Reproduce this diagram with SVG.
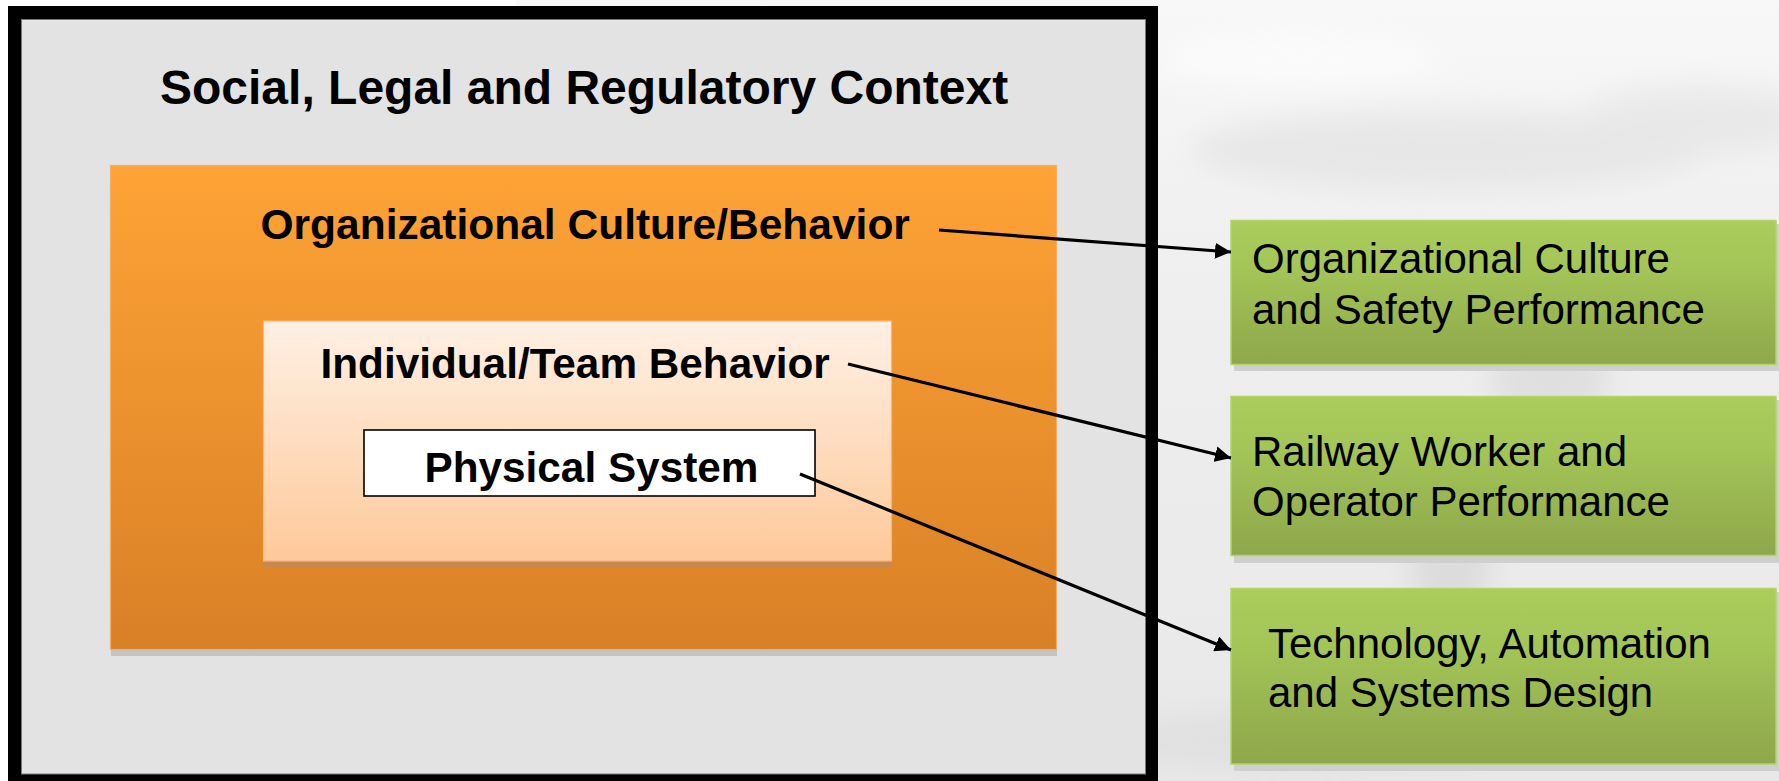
<svg xmlns="http://www.w3.org/2000/svg" width="1779" height="781" viewBox="0 0 1779 781">
  <defs>
    <linearGradient id="gOrange" x1="0" y1="0" x2="0" y2="1">
      <stop offset="0" stop-color="#ffa336"/>
      <stop offset="1" stop-color="#d88026"/>
    </linearGradient>
    <linearGradient id="gLight" x1="0" y1="0" x2="0" y2="1">
      <stop offset="0" stop-color="#fff0e4"/>
      <stop offset="1" stop-color="#fec99a"/>
    </linearGradient>
    <linearGradient id="gGreen" x1="0" y1="0" x2="0" y2="1">
      <stop offset="0" stop-color="#abcd5c"/>
      <stop offset="0.35" stop-color="#a3c457"/>
      <stop offset="1" stop-color="#8ea74b"/>
    </linearGradient>
    <linearGradient id="gSky" x1="0" y1="0" x2="0" y2="1">
      <stop offset="0" stop-color="#f8f8f8"/>
      <stop offset="0.3" stop-color="#f0f0f0"/>
      <stop offset="0.6" stop-color="#ececec"/>
      <stop offset="1" stop-color="#e8e8e8"/>
    </linearGradient>
    <filter id="blur" x="-20%" y="-50%" width="140%" height="200%">
      <feGaussianBlur stdDeviation="14"/>
    </filter>
    <marker id="arrow" viewBox="0 0 10 10" refX="10" refY="5" markerWidth="5" markerHeight="5" markerUnits="strokeWidth" orient="auto">
      <path d="M0,0 L10,5 L0,10 z" fill="#000"/>
    </marker>
    <style>
      .bold { font-family: "Liberation Sans", Arial, sans-serif; font-weight: bold; fill: #000; }
      .reg { font-family: "Liberation Sans", Arial, sans-serif; font-size: 42px; fill: #000; }
      .conn { stroke: #000; stroke-width: 3.2; fill: none; marker-end: url(#arrow); }
      .green { fill: url(#gGreen); stroke: #b4d26e; stroke-width: 1.5; }
      .gshadow { fill: #cfcfcf; }
    </style>
  </defs>

  <!-- background photo approximation -->
  <rect x="0" y="0" width="1779" height="781" fill="#ffffff"/>
  <rect x="516" y="0" width="1263" height="781" fill="url(#gSky)"/>
  <g filter="url(#blur)" opacity="0.55">
    <ellipse cx="1450" cy="150" rx="260" ry="40" fill="#dedede"/>
    <ellipse cx="1700" cy="120" rx="120" ry="35" fill="#e0e0e0"/>
    <ellipse cx="1300" cy="60" rx="140" ry="25" fill="#ffffff"/>
    <ellipse cx="1550" cy="380" rx="60" ry="40" fill="#d4d4d4"/>
    <ellipse cx="1450" cy="560" rx="40" ry="60" fill="#d0d0d0"/>
    <ellipse cx="1300" cy="740" rx="200" ry="30" fill="#dadada"/>
  </g>

  <!-- outer frame: Social, Legal and Regulatory Context -->
  <g id="node-context">
    <rect x="8" y="6" width="1150" height="790" fill="#000"/>
    <rect x="21.5" y="19.5" width="1124" height="754.5" fill="#e3e3e3" stroke="#7a7a7a" stroke-width="1"/>
    <text class="bold" x="160" y="104" font-size="48">Social, Legal and Regulatory Context</text>
  </g>

  <!-- orange box -->
  <g id="node-org">
    <rect x="111" y="172" width="946" height="484" fill="#c4c4c4"/>
    <rect x="110.5" y="165.5" width="946" height="484" fill="url(#gOrange)" stroke="#f6ad6a" stroke-width="1.2"/>
    <text class="bold" x="260.5" y="238.5" font-size="42.5">Organizational Culture/Behavior</text>
  </g>

  <!-- individual/team box -->
  <g id="node-indiv">
    <rect x="264" y="327" width="628" height="240" fill="#c88a4c"/>
    <rect x="263.5" y="321" width="628" height="240" fill="url(#gLight)" stroke="#f8b57c" stroke-width="1.2"/>
    <text class="bold" x="320.5" y="378" font-size="42.3">Individual/Team Behavior</text>
  </g>

  <!-- physical system -->
  <g id="node-phys">
    <rect x="364" y="430" width="451" height="66" fill="#ffffff" stroke="#000" stroke-width="1.6"/>
    <text class="bold" x="424.5" y="482" font-size="42.3">Physical System</text>
  </g>

  <!-- green boxes -->
  <g id="node-safety">
    <rect class="gshadow" x="1234" y="224" width="545" height="147"/>
    <rect class="green" x="1231" y="220.5" width="545" height="144"/>
    <text class="reg" x="1252" y="272.5">Organizational Culture</text>
    <text class="reg" x="1252" y="323.5">and Safety Performance</text>
  </g>

  <g id="node-worker">
    <rect class="gshadow" x="1234" y="400" width="545" height="163"/>
    <rect class="green" x="1231" y="396.5" width="545" height="159"/>
    <text class="reg" x="1252" y="465.5">Railway Worker and</text>
    <text class="reg" x="1252" y="515.5">Operator Performance</text>
  </g>

  <g id="node-tech">
    <rect class="gshadow" x="1234" y="592" width="545" height="179"/>
    <rect class="green" x="1231" y="588.5" width="545" height="175.5"/>
    <text class="reg" x="1268" y="658">Technology, Automation</text>
    <text class="reg" x="1268" y="707">and Systems Design</text>
  </g>

  <!-- connectors -->
  <g id="connectors">
    <line class="conn" x1="939" y1="230" x2="1231" y2="252"/>
    <line class="conn" x1="848" y1="364" x2="1231" y2="458"/>
    <line class="conn" x1="800" y1="474" x2="1231" y2="650"/>
  </g>
</svg>
